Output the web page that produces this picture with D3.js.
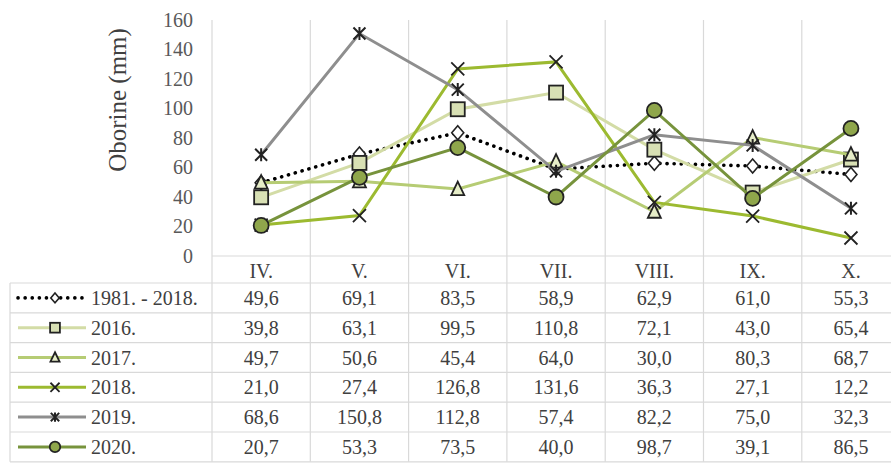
<!doctype html>
<html lang="hr">
    <head>
        <meta charset="utf-8">
        <title>Oborine</title>
        <style type="text/css">
            body{ margin:0; background:#fff; }
            svg text{ font-family: "Liberation Serif", "Times New Roman", serif; }
        </style>
    </head>
    <body>
        <div id="vis"></div>
        <script src="https://d3js.org/d3.v7.min.js"></script>
        <script type="text/javascript">
            // data
            var months = ['IV.', 'V.', 'VI.', 'VII.', 'VIII.', 'IX.', 'X.'];
            var names = ['1981. - 2018.', '2016.', '2017.', '2018.', '2019.', '2020.'];
            var avg1981 = [49.6, 69.1, 83.5, 58.9, 62.9, 61.0, 55.3];
            var y2016 = [39.8, 63.1, 99.5, 110.8, 72.1, 43.0, 65.4];
            var y2017 = [49.7, 50.6, 45.4, 64.0, 30.0, 80.3, 68.7];
            var y2018 = [21.0, 27.4, 126.8, 131.6, 36.3, 27.1, 12.2];
            var y2019 = [68.6, 150.8, 112.8, 57.4, 82.2, 75.0, 32.3];
            var y2020 = [20.7, 53.3, 73.5, 40.0, 98.7, 39.1, 86.5];
            var yTicks = [0, 20, 40, 60, 80, 100, 120, 140, 160];

            (function(){
            var series = [avg1981, y2016, y2017, y2018, y2019, y2020];
            var styles = [
                {line:'#000', dash:'0.1,7', marker:'diamond', fill:'#fff'},
                {line:'#d3dca6', marker:'square', fill:'#d8e0b4'},
                {line:'#b6cc74', marker:'triangle', fill:'#e6edc8'},
                {line:'#9cba30', marker:'cross', fill:'none'},
                {line:'#8e8e8e', marker:'star', fill:'none'},
                {line:'#77933c', marker:'circle', fill:'#8fa64b'}
            ];

            var W = 891, H = 468,
                plotTop = 20, base = 256, left = 212, colW = 98.3,
                rowH = 29.8, tableTop = 283, fs = '20px', txt = '#404040';

            var svg = d3.select('#vis').append('svg').attr('width', W).attr('height', H);

            var x = d3.scaleBand().domain(months).range([left, left + colW * months.length]);
            var y = d3.scaleLinear().domain([0, 160]).range([base, plotTop]);
            var row = d3.scaleBand().domain(names).range([tableTop, tableTop + rowH * names.length]);

            var grid = '#d9d9d9';

            // table / grid lines
            var g = svg.append('g');
            var bounds = months.map(function(m){ return x(m); }).concat([x.range()[1]]);
            bounds.forEach(function(b){
                g.append('line').attr('x1', b).attr('x2', b).attr('y1', plotTop).attr('y2', row.range()[1])
                    .style('stroke', grid).style('stroke-width', 1.2);
            });
            g.append('line').attr('x1', 10).attr('x2', 10).attr('y1', tableTop).attr('y2', row.range()[1])
                .style('stroke', grid).style('stroke-width', 1.2);
            g.append('line').attr('x1', left).attr('x2', W).attr('y1', base).attr('y2', base)
                .style('stroke', grid).style('stroke-width', 1.2);
            names.concat(['end']).forEach(function(n, i){
                var yy = tableTop + rowH * i;
                g.append('line').attr('x1', 10).attr('x2', W).attr('y1', yy).attr('y2', yy)
                    .style('stroke', grid).style('stroke-width', 1.2);
            });

            // y axis
            var yAxis = d3.axisLeft(y).tickValues(yTicks).tickSize(0).tickPadding(19);
            var ya = svg.append('g').attr('transform', 'translate(' + left + ',0)').call(yAxis);
            ya.select('.domain').remove();
            ya.selectAll('text').style('font-family', '"Liberation Serif", serif')
                .style('font-size', fs).style('fill', '#595959');

            svg.append('text').attr('transform', 'translate(126,100) rotate(-90)')
                .style('text-anchor', 'middle').style('font-size', '25px').style('fill', txt)
                .text('Oborine (mm)');

            // markers
            function marker(sel, type, fill, s){
                s = s || 1;
                if(type === 'diamond'){
                    sel.append('path').attr('d', 'M0,' + (-7*s) + 'L' + (6*s) + ',0L0,' + (7*s) + 'L' + (-6*s) + ',0Z')
                        .style('fill', fill).style('stroke', '#222').style('stroke-width', 1.6);
                } else if(type === 'square'){
                    sel.append('rect').attr('x', -7*s).attr('y', -7*s).attr('width', 14*s).attr('height', 14*s)
                        .style('fill', fill).style('stroke', '#222').style('stroke-width', 1.8);
                } else if(type === 'triangle'){
                    sel.append('path').attr('d', 'M0,' + (-7.5*s) + 'L' + (6.5*s) + ',' + (6*s) + 'L' + (-6.5*s) + ',' + (6*s) + 'Z')
                        .style('fill', fill).style('stroke', '#222').style('stroke-width', 1.8);
                } else if(type === 'cross'){
                    sel.append('path').attr('d', 'M' + (-6.5*s) + ',' + (-6.5*s) + 'L' + (6.5*s) + ',' + (6.5*s) + 'M' + (6.5*s) + ',' + (-6.5*s) + 'L' + (-6.5*s) + ',' + (6.5*s))
                        .style('stroke', '#222').style('stroke-width', 1.8);
                } else if(type === 'star'){
                    sel.append('path').attr('d', 'M' + (-6*s) + ',' + (-6*s) + 'L' + (6*s) + ',' + (6*s) + 'M' + (6*s) + ',' + (-6*s) + 'L' + (-6*s) + ',' + (6*s) + 'M0,' + (-6.5*s) + 'L0,' + (6.5*s))
                        .style('stroke', '#222').style('stroke-width', 2);
                } else {
                    sel.append('circle').attr('r', 7.5*s)
                        .style('fill', fill).style('stroke', '#222').style('stroke-width', 1.8);
                }
            }

            var line = d3.line()
                .x(function(d, i){ return x(months[i]) + x.bandwidth() / 2; })
                .y(function(d){ return y(d); });

            series.forEach(function(data, k){
                var st = styles[k];
                var sg = svg.append('g');
                sg.append('path').datum(data).attr('d', line)
                    .style('fill', 'none').style('stroke', st.line)
                    .style('stroke-width', st.dash ? 3.6 : 3)
                    .style('stroke-linecap', st.dash ? 'round' : 'butt')
                    .style('stroke-dasharray', st.dash || null);
                data.forEach(function(v, i){
                    var mg = sg.append('g').attr('transform', 'translate(' + (x(months[i]) + x.bandwidth() / 2) + ',' + y(v) + ')');
                    marker(mg, st.marker, st.fill);
                });
            });

            // table text
            var fmt = d3.format('.1f');
            months.forEach(function(m){
                svg.append('text').attr('x', x(m) + x.bandwidth() / 2).attr('y', 271)
                    .attr('dy', '0.35em').style('text-anchor', 'middle')
                    .style('font-size', fs).style('fill', txt).text(m);
            });
            series.forEach(function(data, k){
                var n = names[k], st = styles[k],
                    cy = row(n) + row.bandwidth() / 2;
                svg.append('line').attr('x1', 18).attr('x2', 86).attr('y1', cy).attr('y2', cy)
                    .style('stroke', st.line).style('stroke-width', st.dash ? 3.6 : 3)
                    .style('stroke-linecap', st.dash ? 'round' : 'butt')
                    .style('stroke-dasharray', st.dash || null);
                marker(svg.append('g').attr('transform', 'translate(55,' + cy + ')'), st.marker, st.fill, 0.7);
                svg.append('text').attr('x', 91).attr('y', cy).attr('dy', '0.35em')
                    .style('font-size', fs).style('fill', txt).text(n);
                data.forEach(function(v, i){
                    svg.append('text').attr('x', x(months[i]) + x.bandwidth() / 2).attr('y', cy)
                        .attr('dy', '0.35em').style('text-anchor', 'middle')
                        .style('font-size', fs).style('fill', txt)
                        .text(fmt(v).replace('.', ','));
                });
            });
            })();
        </script>
    </body>
</html>
